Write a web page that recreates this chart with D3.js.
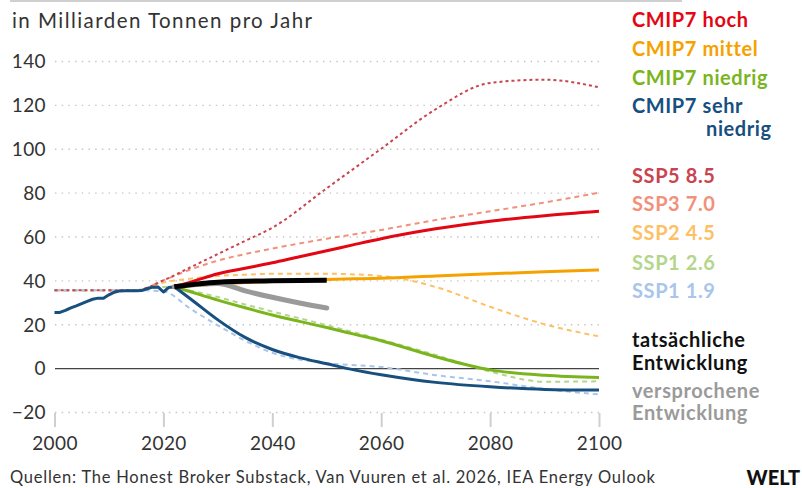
<!DOCTYPE html>
<html><head><meta charset="utf-8">
<script src="https://cdn.jsdelivr.net/npm/d3@7"></script>
<style>
html,body{margin:0;padding:0;background:#fff;}
svg{display:block;}
text{font-family:Lato,"Open Sans",sans-serif;}
</style></head>
<body>
<svg id="chart" width="802" height="488"></svg>
<script>
// ---------- data ----------
const histYears = [2000,2001,2002,2003,2004,2005,2006,2007,2008,2009,2010,2011,2012,2013,2014,2015,2016,2017,2018,2019,2020,2021,2022];
const histValues = [25.4,25.4,26.3,27.5,28.4,29.4,30.4,31.4,31.9,31.8,33.4,34.6,35.2,35.3,35.3,35.3,35.4,36.2,36.9,37.0,34.7,36.8,37.1];

const cmipYears = [2022,2025,2030,2035,2040,2045,2050,2055,2060,2070,2080,2090,2100];
const cmipHoch = [37.1,39.2,43,45.5,48,50.8,53.5,56.3,59,63.5,67,69.5,71.5];
const cmipMittel = [37.1,37.6,38.4,39,39.5,40,40.4,40.7,41,42,43,43.9,44.7];
const cmipNiedrig = [37.1,34.8,31,27.5,24.2,21.3,18.5,15.5,12.5,5.2,-0.8,-3.3,-4.3];
const cmipSehrNiedrig = [37.1,31.5,22,14,8.5,4.8,2,-0.8,-3,-6.5,-8.5,-9.7,-10];

const sspYears = [2000,2015,2020,2025,2030,2035,2040,2050,2060,2070,2080,2090,2100];
const ssp585 = [35.5,35.5,40,46,52,58,64,82,100,118,130,131.5,128];
const ssp370 = [35.5,35.5,40,45,49,52,54.5,59,63,67.5,71.5,75.5,80];
const ssp245 = [35.5,35.5,39,40.8,42,42.6,43,43,42,37,28,20,14.5];
const ssp126 = [35.5,35.5,37,35.3,32.4,29,25.8,19.6,13,6,-1.5,-6.2,-6];
const ssp119 = [35.5,35.5,35,27,19.5,12.5,7,2.3,0.5,-3.2,-6,-9.5,-12];

const actualYears = [2022,2030,2040,2050];
const actualValues = [37.1,39.2,39.8,40.1];
const pledgedYears = [2022,2030,2035,2040,2045,2050];
const pledgedValues = [37.1,38.6,35.2,32.3,29.7,27.4];

const yTicks = [-20,0,20,40,60,80,100,120,140];
const xTicks = [2000,2020,2040,2060,2080,2100];

const titleText = "in Milliarden Tonnen pro Jahr";
const sourceText = "Quellen: The Honest Broker Substack, Van Vuuren et al. 2026, IEA Energy Oulook";

const legendItems = [
  {lines:["CMIP7 hoch"], color:"#e30613"},
  {lines:["CMIP7 mittel"], color:"#f5a200"},
  {lines:["CMIP7 niedrig"], color:"#7ab51d"},
  {lines:["CMIP7 sehr","niedrig"], color:"#174f7e"},
  {lines:["SSP5 8.5"], color:"#c9444f"},
  {lines:["SSP3 7.0"], color:"#f2917b"},
  {lines:["SSP2 4.5"], color:"#fdc064"},
  {lines:["SSP1 2.6"], color:"#b4d68c"},
  {lines:["SSP1 1.9"], color:"#a8c5ec"},
  {lines:["tatsächliche","Entwicklung"], color:"#111111"},
  {lines:["versprochene","Entwicklung"], color:"#9a9a9a"}
];

// ---------- drawing ----------
const svg = d3.select("#chart");
const x = d3.scaleLinear().domain([2000,2100]).range([54.5,599]);
const y = d3.scaleLinear().domain([-20,140]).range([412,61]);

// top rule
svg.append("line").attr("x1",10).attr("x2",682).attr("y1",1).attr("y2",1)
  .attr("stroke","#d0d0d0").attr("stroke-width",2);

svg.append("text").attr("x",12).attr("y",28).attr("font-size",20.5)
  .attr("textLength",300).attr("lengthAdjust","spacing")
  .attr("fill","#333").text(titleText);

// grid
const yAxis = d3.axisLeft(y).tickValues(yTicks).tickSize(0).tickPadding(0)
  .tickFormat(d => d < 0 ? "\u2212" + Math.abs(d) : d);
const gy = svg.append("g").attr("transform","translate(55,0)").call(yAxis);
gy.select(".domain").remove();
gy.selectAll("text").attr("x",-9).attr("dy","0.36em").attr("font-size",19)
  .attr("fill","#333").style("font-family","Lato,sans-serif").style("letter-spacing","0.4px");
gy.selectAll(".tick").append("line")
  .attr("x1",0).attr("x2",544)
  .attr("stroke", d => d === 0 ? "#444" : "#c4c4c4")
  .attr("stroke-width", d => d === 0 ? 1.3 : 1.4)
  .attr("stroke-dasharray", d => d === 0 ? null : "1.4,5.3");

const xAxis = d3.axisBottom(x).tickValues(xTicks).tickSize(0).tickFormat(d3.format("d"));
const gx = svg.append("g").attr("transform","translate(0,412)").call(xAxis);
gx.select(".domain").remove();
gx.selectAll(".tick").append("line").attr("y1",1).attr("y2",15)
  .attr("stroke","#cfcfcf").attr("stroke-width",2);
gx.selectAll("text").attr("y",25).attr("dy","0.71em").attr("font-size",19)
  .attr("fill","#333").style("font-family","Lato,sans-serif").style("letter-spacing","0.4px");

const lineGen = (xs) => d3.line().x((d,i) => x(xs[i])).y(d => y(d)).curve(d3.curveMonotoneX);
const linLine = (xs) => d3.line().x((d,i) => x(xs[i])).y(d => y(d));

function draw(xs, vals, color, width, dash, gen) {
  svg.append("path").datum(vals)
    .attr("d", (gen || lineGen)(xs))
    .attr("fill","none").attr("stroke",color).attr("stroke-width",width)
    .attr("stroke-dasharray",dash || null)
    .attr("stroke-linejoin","round");
}

// SSP scenarios (dashed)
draw(sspYears, ssp245, "#fdc064", 2, "5,4");
draw(sspYears, ssp370, "#f2917b", 2, "5,4");
draw(sspYears, ssp126, "#b4d68c", 2, "5,4");
draw(sspYears, ssp119, "#a8c5ec", 2, "5,4");
draw(sspYears, ssp585, "#c9444f", 2, "3,3");

// CMIP7 scenarios
draw(cmipYears, cmipHoch, "#e30613", 3);
draw(cmipYears, cmipMittel, "#f5a200", 3);
draw(cmipYears, cmipNiedrig, "#7ab51d", 3);
draw(cmipYears, cmipSehrNiedrig, "#174f7e", 3);

// history
draw(histYears, histValues, "#174f7e", 3, null, linLine);

// pledged & actual
svg.append("path").datum(pledgedValues).attr("d", lineGen(pledgedYears))
  .attr("fill","none").attr("stroke","#9a9a9a").attr("stroke-width",5).attr("stroke-linecap","round");
svg.append("path").datum(actualValues).attr("d", lineGen(actualYears))
  .attr("fill","none").attr("stroke","#000").attr("stroke-width",5).attr("stroke-linecap","butt");

// legend
const legendBaselines = [[27],[56],[85],[113,136],[183],[211],[240],[270],[298],[347,370],[398,420]];
const legendIndent = {3:[632,706]};
const lg = svg.append("g");
legendItems.forEach((it,i) => {
  it.lines.forEach((ln,j) => {
    const lx = legendIndent[i] ? legendIndent[i][j] : 632;
    lg.append("text").attr("x",lx).attr("y",legendBaselines[i][j])
      .attr("font-size",20).attr("font-weight",700).style("letter-spacing","0.6px")
      .attr("fill",it.color).text(ln);
  });
});

// source
svg.append("text").attr("x",10).attr("y",483).attr("font-size",16.5)
  .attr("textLength",645).attr("lengthAdjust","spacing")
  .attr("fill","#333").text(sourceText);
svg.append("text").attr("x",800).attr("y",485).attr("text-anchor","end")
  .attr("font-size",20).attr("font-weight",900).attr("fill","#111")
  .text("WELT");
</script>
</body></html>
